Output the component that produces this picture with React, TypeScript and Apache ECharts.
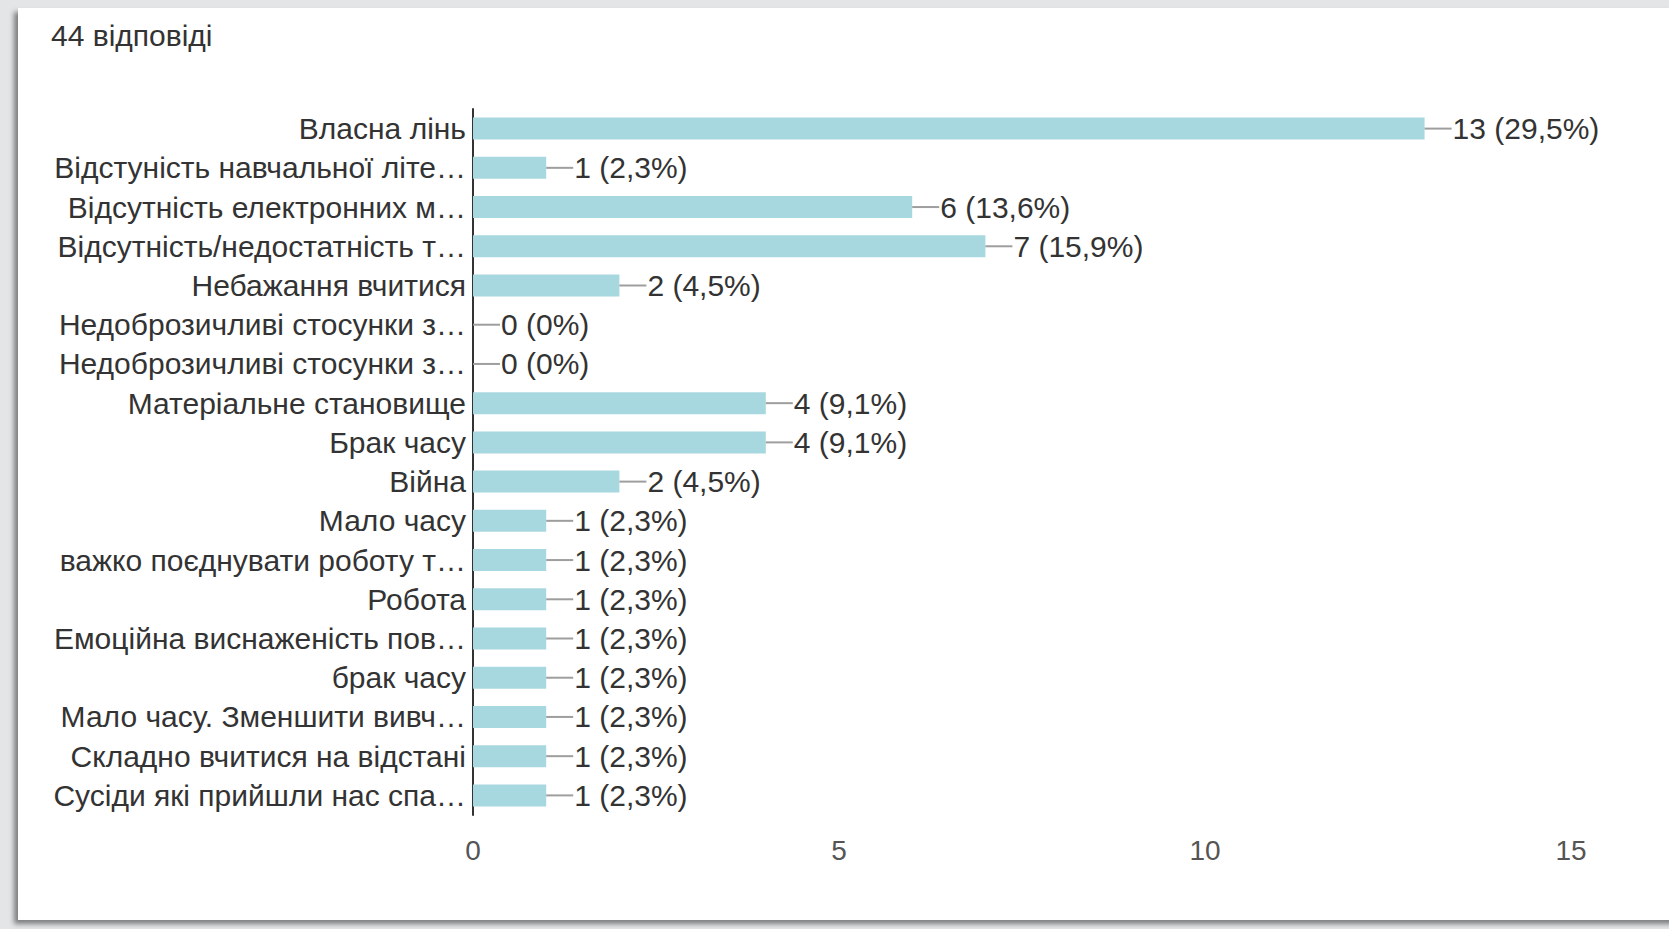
import React, { useEffect, useRef } from "react";
import * as echarts from "echarts";

const titleText = "44 відповіді";

const categories = [
  "Власна лінь",
  "Відстуність навчальної літе…",
  "Відсутність електронних м…",
  "Відсутність/недостатність т…",
  "Небажання вчитися",
  "Недоброзичливі стосунки з…",
  "Недоброзичливі стосунки з…",
  "Матеріальне становище",
  "Брак часу",
  "Війна",
  "Мало часу",
  "важко поєднувати роботу т…",
  "Робота",
  "Емоційна виснаженість пов…",
  "брак часу",
  "Мало часу. Зменшити вивч…",
  "Складно вчитися на відстані",
  "Сусіди які прийшли нас спа…",
];

const counts = [13, 1, 6, 7, 2, 0, 0, 4, 4, 2, 1, 1, 1, 1, 1, 1, 1, 1];

const percents = [
  "29,5%", "2,3%", "13,6%", "15,9%", "4,5%", "0%", "0%", "9,1%", "9,1%",
  "4,5%", "2,3%", "2,3%", "2,3%", "2,3%", "2,3%", "2,3%", "2,3%", "2,3%",
];

const xTicks = { min: 0, max: 15, interval: 5 };

const FONT = "'Liberation Sans', Arial, sans-serif";
const TEXT = "#333333";

export default function App() {
  const ref = useRef<HTMLDivElement>(null);

  useEffect(() => {
    if (!ref.current) return;
    const chart = echarts.init(ref.current, undefined, { renderer: "svg" });
    chart.setOption({
      animation: false,
      textStyle: { fontFamily: FONT },
      title: {
        text: titleText,
        left: 46,
        top: 15,
        textStyle: { fontSize: 30, fontWeight: "normal", color: TEXT, fontFamily: FONT },
      },
      grid: { left: 473, right: 98, top: 109, bottom: 114, containLabel: false },
      xAxis: {
        type: "value",
        min: xTicks.min,
        max: xTicks.max,
        interval: xTicks.interval,
        splitLine: { show: false },
        axisLine: { show: false },
        axisTick: { show: false },
        axisLabel: { fontSize: 28, color: "#555", margin: 21, fontFamily: FONT },
      },
      yAxis: {
        type: "category",
        inverse: true,
        data: categories,
        axisLine: { show: true, lineStyle: { color: "#333", width: 2 } },
        axisTick: { show: false },
        axisLabel: { fontSize: 30, color: TEXT, margin: 7, fontFamily: FONT },
      },
      series: [
        {
          type: "bar",
          data: counts,
          barWidth: 22,
          itemStyle: { color: "#A8D8DF" },
          label: {
            show: true,
            position: "right",
            distance: 0,
            formatter: (p: any) =>
              "{l|}{v|" + counts[p.dataIndex] + " (" + percents[p.dataIndex] + ")}",
            rich: {
              l: { width: 27, height: 2, backgroundColor: "#9e9e9e", verticalAlign: "middle" },
              v: { fontSize: 30, color: TEXT, fontFamily: FONT, padding: [0, 0, 0, 1], verticalAlign: "middle" },
            },
          },
        },
      ],
    });
    return () => chart.dispose();
  }, []);

  return (
    <div style={{ position: "fixed", left: 0, top: 0, width: 1669, height: 929, background: "#e4e5e7", overflow: "hidden" }}>
      <div
        style={{
          position: "absolute",
          left: 18,
          top: 8,
          width: 1660,
          height: 912,
          background: "#ffffff",
          boxShadow: "-4px 4px 5px rgba(0,0,0,0.45)",
        }}
      />
      <div ref={ref} style={{ position: "absolute", left: 0, top: 0, width: 1669, height: 929 }} />
    </div>
  );
}
